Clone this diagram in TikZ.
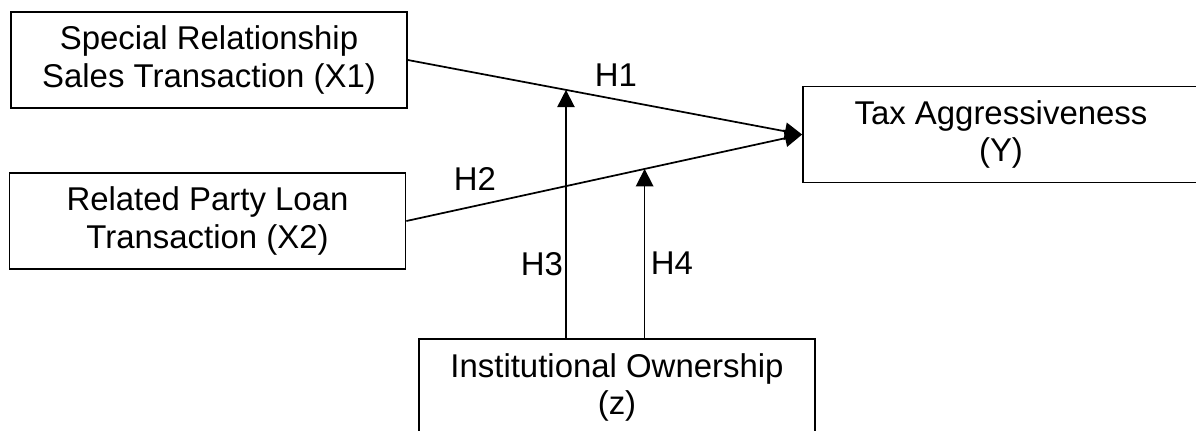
\documentclass[tikz,border=0pt]{standalone}
\usepackage{fontspec}
\setmainfont{Liberation Sans}
\usetikzlibrary{arrows.meta,calc}
\begin{document}
\begin{tikzpicture}[x=0.75pt,y=-0.75pt,
  varbox/.style={draw=black,line width=1.3pt,minimum width=297pt,minimum height=72pt,
    align=center,inner sep=0pt,font=\fontsize{24.7}{27.8}\selectfont},
  hlabel/.style={font=\fontsize{24.7}{27.8}\selectfont,inner sep=0pt},
  conn/.style={draw=black,line width=1.3pt},
  arr/.style={conn,-{Triangle[length=13pt,width=13pt]}}]
\useasboundingbox (0,0) rectangle (1196,430);
\clip (0,0) rectangle (1196,430);
\node[varbox] (X1) at (209,60) {Special Relationship\\Sales Transaction (X1)};
\node[varbox] (X2) at (207.5,221) {Related Party Loan\\Transaction (X2)};
\node[varbox] (Y) at (1001,134.5) {Tax Aggressiveness\\(Y)};
\node[varbox] (Z) at (617,387) {Institutional Ownership\\(z)};
\draw[arr] (X1.east) -- (Y.west);
\draw[arr] (X2.east) -- (Y.west);
\coordinate (m1) at ($(X1.east)!0.401!(Y.west)$);
\coordinate (m2) at ($(X2.east)!0.602!(Y.west)$);
\draw[arr] (Z.north -| m1) -- (m1);
\draw[arr] (Z.north -| m2) -- (m2);
\node[hlabel] (H1) at (616,75) {H1};
\node[hlabel] (H2) at (475,178.5) {H2};
\node[hlabel] (H3) at (542,264) {H3};
\node[hlabel] (H4) at (672,263) {H4};
\end{tikzpicture}
\end{document}
